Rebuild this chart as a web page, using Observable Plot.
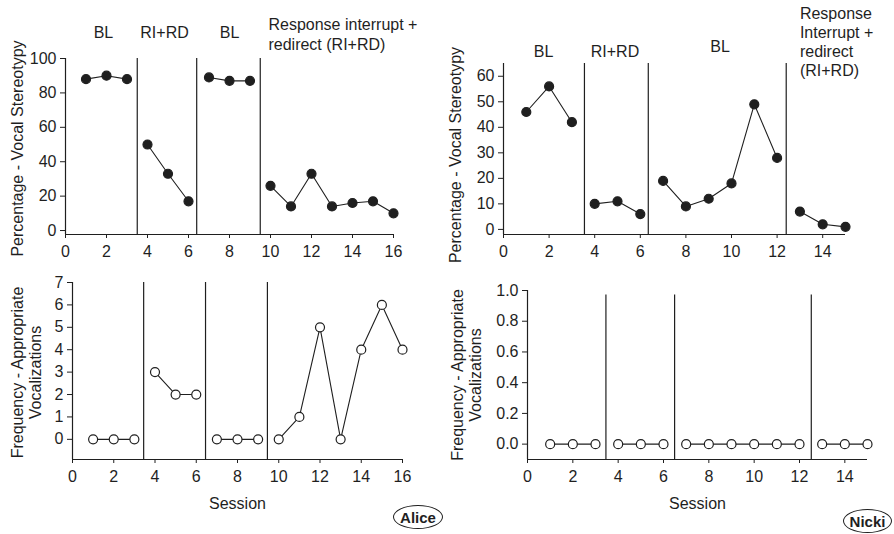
<!DOCTYPE html>
<html><head><meta charset="utf-8">
<script src="https://cdn.jsdelivr.net/npm/d3@7"></script>
<script src="https://cdn.jsdelivr.net/npm/@observablehq/plot@0.6"></script>
<style>
body{margin:0;background:#fff;}
#wrap{position:relative;width:894px;height:534px;overflow:hidden;font-family:"Liberation Sans",Arial,Helvetica,sans-serif;color:#1f1f1f;background:#fff}
.badge{position:absolute;border:1.4px solid #1f1f1f;border-radius:50%;font-weight:bold;font-size:15px;display:flex;align-items:center;justify-content:center;box-sizing:border-box;font-family:"Liberation Sans",Arial,sans-serif;line-height:1}
</style></head><body><div id="wrap"></div>
<script>
// ---------- data ----------
const aliceSessions = [1,2,3,4,5,6,7,8,9,10,11,12,13,14,15,16];
const aliceStereotypy = [88,90,88,50,33,17,89,87,87,26,14,33,14,16,17,10];
const aliceVocal = [0,0,0,3,2,2,0,0,0,0,1,5,0,4,6,4];
const aliceTopPhaseLines = [3.5,6.4,9.5];
const aliceBottomPhaseLines = [3.45,6.45,9.45];
const alicePhaseLabels = ["BL","RI+RD","BL","Response interrupt +\nredirect (RI+RD)"];

const nickiSessions = [1,2,3,4,5,6,7,8,9,10,11,12,13,14,15];
const nickiStereotypy = [46,56,42,10,11,6,19,9,12,18,49,28,7,2,1];
const nickiVocal = [0,0,0,0,0,0,0,0,0,0,0,0,0,0,0];
const nickiTopPhaseLines = [3.55,6.35,12.4];
const nickiBottomPhaseLines = [3.46,6.49,12.52];
const nickiPhaseLabels = ["BL","RI+RD","BL","Response\nInterrupt +\nredirect\n(RI+RD)"];

const aliceXTicks = [0,2,4,6,8,10,12,14,16];
const nickiXTicks = [0,2,4,6,8,10,12,14];
const aliceTopYTicks = [0,20,40,60,80,100];
const nickiTopYTicks = [0,10,20,30,40,50,60];
const aliceBottomYTicks = [0,1,2,3,4,5,6,7];
const nickiBottomYTicks = [0,0.2,0.4,0.6,0.8,1.0];

const stereoTitle = "Percentage - Vocal Stereotypy";
const vocalTitle = "Frequency - Appropriate\nVocalizations";
const xTitle = "Session";

// ---------- drawing ----------
const ink = "#1f1f1f";
const FONT = '"Liberation Sans", Arial, Helvetica, sans-serif';
const wrap = document.getElementById("wrap");

function panel(o) {
  const rows = o.sessions.map((s, i) => ({s, v: o.values[i], p: o.phases.filter(b => b < s).length}));
  const marks = [
    Plot.ruleY([o.yDomain[0]], {stroke: ink, strokeWidth: 1.2}),
    Plot.ruleX([o.xDomain[0]], {stroke: ink, strokeWidth: 1.2}),
    Plot.ruleX(o.phases, o.phaseTop != null
      ? {y1: o.yDomain[0], y2: o.phaseTop, stroke: ink, strokeWidth: 1.2}
      : {stroke: ink, strokeWidth: 1.2}),
    Plot.line(rows, {x: "s", y: "v", z: "p", stroke: ink, strokeWidth: 1.1}),
    Plot.dot(rows, {x: "s", y: "v", r: 4.5, fill: o.filled ? ink : "white", stroke: ink, strokeWidth: 1.2}),
    Plot.text([o.yTitle], {text: d => d, frameAnchor: "left", rotate: -90, dx: o.yTitleDx, dy: o.yTitleDy,
      textAnchor: "middle", lineAnchor: "middle", lineHeight: 1.1, fontSize: 16, fill: ink})
  ];
  if (o.labels) {
    o.labels.forEach((lab, i) => {
      marks.push(Plot.text([{x: o.labelX[i], t: lab}], {x: "x", text: "t", frameAnchor: "top",
        dy: o.labelDy[i], textAnchor: o.labelAnchor[i], lineAnchor: "middle", lineHeight: o.labelLineHeight,
        fontSize: 16, fill: ink}));
    });
  }
  if (o.showSession) {
    marks.push(Plot.text([xTitle], {text: d => d, frameAnchor: "bottom", dy: 44, lineAnchor: "middle", fontSize: 16, fill: ink}));
  }
  const svg = Plot.plot({
    width: o.width, height: o.height,
    marginLeft: o.m[0], marginRight: o.m[1], marginTop: o.m[2], marginBottom: o.m[3],
    x: {domain: o.xDomain, ticks: o.xTicks, tickSize: 4, tickPadding: 7, label: null},
    y: {domain: o.yDomain, ticks: o.yTicks, tickSize: 5, tickPadding: 4, label: null, tickFormat: o.yFormat},
    style: {fontFamily: FONT, fontSize: "16px", color: ink, background: "transparent",
      position: "absolute", left: o.left + "px", top: o.top + "px", overflow: "visible"},
    marks
  });
  wrap.appendChild(svg);
}

panel({left: 0, top: 0, width: 440, height: 270, m: [65, 47, 58, 36],
  sessions: aliceSessions, values: aliceStereotypy, phases: aliceTopPhaseLines, filled: true,
  xDomain: [0, 16], yDomain: [-2.3, 100], xTicks: aliceXTicks, yTicks: aliceTopYTicks,
  yTitle: stereoTitle, yTitleDx: -48, yTitleDy: 2,
  labels: alicePhaseLabels, labelX: [1.85, 4.83, 8.0, 9.9], labelDy: [-27, -27, -27, -24.5],
  labelAnchor: ["middle", "middle", "middle", "start"], labelLineHeight: 1.25});

panel({left: 440, top: 0, width: 454, height: 270, m: [63, 49, 63, 36],
  sessions: nickiSessions, values: nickiStereotypy, phases: nickiTopPhaseLines, filled: true,
  xDomain: [0, 15], yDomain: [-2, 65], xTicks: nickiXTicks, yTicks: nickiTopYTicks,
  yTitle: stereoTitle, yTitleDx: -48, yTitleDy: 6,
  labels: nickiPhaseLabels, labelX: [1.76, 4.89, 9.5, 13.0], labelDy: [-13, -13, -18, -22],
  labelAnchor: ["middle", "middle", "middle", "start"], labelLineHeight: 1.2});

panel({left: 0, top: 270, width: 440, height: 264, m: [72, 38, 12, 75],
  sessions: aliceSessions, values: aliceVocal, phases: aliceBottomPhaseLines, filled: false,
  xDomain: [0, 16], yDomain: [-0.9, 7], xTicks: aliceXTicks, yTicks: aliceBottomYTicks,
  yTitle: vocalTitle, yTitleDx: -46, yTitleDy: 1.5, showSession: true});

panel({left: 440, top: 270, width: 454, height: 264, m: [87, 27, 20, 75],
  sessions: nickiSessions, values: nickiVocal, phases: nickiBottomPhaseLines, filled: false, phaseTop: 0.97,
  xDomain: [0, 15], yDomain: [-0.1, 1.0], xTicks: nickiXTicks, yTicks: nickiBottomYTicks, yFormat: d3.format(".1f"),
  yTitle: vocalTitle, yTitleDx: -61, yTitleDy: 0, showSession: true});

// name badges
[["Alice", 393, 505, 50, 24], ["Nicki", 843, 509, 49, 24]].forEach(([name, x, y, w, h]) => {
  const b = document.createElement("div");
  b.className = "badge";
  b.textContent = name;
  Object.assign(b.style, {left: x + "px", top: y + "px", width: w + "px", height: h + "px"});
  wrap.appendChild(b);
});
</script></body></html>
